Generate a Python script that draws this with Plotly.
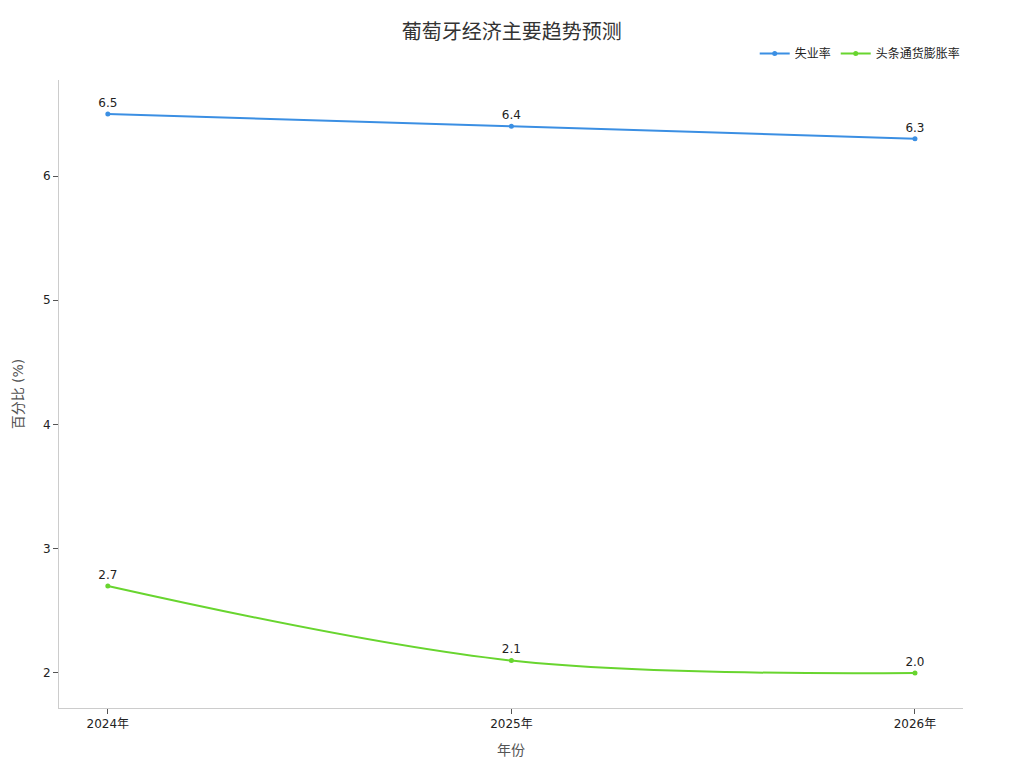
import plotly.graph_objects as go

years = ["2024年", "2025年", "2026年"]
unemployment = [6.5, 6.4, 6.3]
inflation = [2.7, 2.1, 2.0]
series_names = ["失业率", "头条通货膨胀率"]

FONT = "DejaVu Sans, Noto Sans CJK SC, sans-serif"

fig = go.Figure()
fig.add_trace(go.Scatter(
    x=years, y=unemployment, name=series_names[0], mode="lines+markers+text",
    line=dict(color="#3b8fe3", width=2, shape="spline"),
    marker=dict(size=5, color="#3b8fe3"),
    text=[f"{v:.1f}" for v in unemployment], textposition="top center",
    textfont=dict(size=12, color="#222", family=FONT),
))
fig.add_trace(go.Scatter(
    x=years, y=inflation, name=series_names[1], mode="lines+markers+text",
    line=dict(color="#68d52f", width=2, shape="spline"),
    marker=dict(size=5, color="#68d52f"),
    text=[f"{v:.1f}" for v in inflation], textposition="top center",
    textfont=dict(size=12, color="#222", family=FONT),
))

fig.update_layout(
    width=1024, height=768,
    paper_bgcolor="white", plot_bgcolor="white",
    font=dict(family=FONT, size=12, color="#333"),
    title=dict(text="葡萄牙经济主要趋势预测", x=0.492, xanchor="center", y=0.969, yanchor="middle",
               font=dict(size=20, color="#333", family=FONT), automargin=False),
    margin=dict(l=51, r=69, t=72, b=68, autoexpand=False),
    legend=dict(orientation="h", x=1.003, xanchor="right", y=1.042, yanchor="middle",
                font=dict(size=12, color="#222"), bgcolor="rgba(0,0,0,0)"),
    showlegend=True,
    xaxis=dict(
        title=dict(text="年份", font=dict(size=14, color="#555"), standoff=14),
        range=[-0.121, 2.119], showline=True, linecolor="#ccc", linewidth=1,
        ticks="outside", ticklen=5, tickcolor="#555", showgrid=False, zeroline=False,
        tickfont=dict(size=12, color="#222"), automargin=False,
    ),
    yaxis=dict(
        title=dict(text="百分比 (%)", font=dict(size=14, color="#555"), standoff=16),
        range=[1.718, 6.773], showline=True, linecolor="#ccc", linewidth=1,
        ticks="outside", ticklen=5, tickcolor="#555", showgrid=False, zeroline=False,
        tickvals=[2, 3, 4, 5, 6], tickfont=dict(size=12, color="#222"), automargin=False,
    ),
)

fig.write_html("out.html")
